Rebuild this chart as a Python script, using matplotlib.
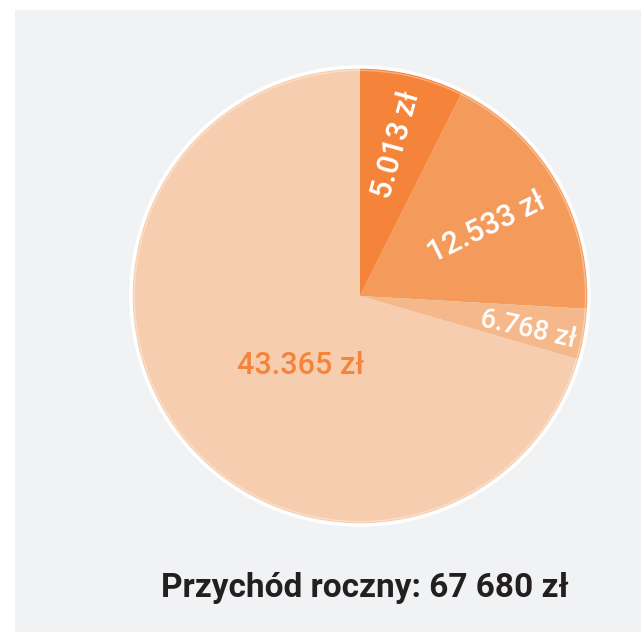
import numpy as np
import matplotlib
matplotlib.use("Agg")
import matplotlib.pyplot as plt
from matplotlib.patches import Rectangle, Circle

# data: slice shares (%) as drawn in the picture, and the printed labels
shares = [7.4, 18.5, 3.6, 70.5]
labels = ["5.013 zł", "12.533 zł", "6.768 zł", "43.365 zł"]
colors = ["#f5843a", "#f49a5a", "#f5b88b", "#f6cdae"]
label_colors = ["white", "white", "white", "#f5843a"]
title = "Przychód roczny: 67 680 zł"

# label placement: radius fraction, angle offset (deg), rotation offset, size
label_r = [0.68, 0.63, 0.75, 0.40]
label_dang = [0, -1.5, -1.5, 12.6]
label_drot = [-2, -4, -3, None]
label_size = [22, 22, 19.5, 22]

plt.rcParams['font.family'] = ['Roboto', 'DejaVu Sans']

W, H = 641, 632
fig = plt.figure(figsize=(W / 100, H / 100), dpi=100)
fig.patch.set_facecolor("white")
fig.patches.append(Rectangle((15 / W, 0), 1 - 15 / W, 1 - 10 / H,
                             transform=fig.transFigure, facecolor="#f1f2f4",
                             edgecolor="none", zorder=-1))

cx, cy, R = 360, 296, 229
ax = fig.add_axes([(cx - R) / W, (H - cy - R) / H, 2 * R / W, 2 * R / H])

wedges, _ = ax.pie(shares, colors=colors, startangle=90, counterclock=False,
                   radius=1, wedgeprops=dict(linewidth=0))
ax.set_xlim(-1, 1)
ax.set_ylim(-1, 1)
ax.axis("off")
for w in wedges:
    w.set_clip_on(False)

# white rim and faint inner highlight
ax.add_patch(Circle((0, 0), 1.0, fill=False, edgecolor="white", linewidth=2.5, clip_on=False))
ax.add_patch(Circle((0, 0), 0.985, fill=False, edgecolor="white", alpha=0.35,
                    linewidth=1, clip_on=False))

for i, w in enumerate(wedges):
    mid = (w.theta1 + w.theta2) / 2
    a = np.deg2rad(mid + label_dang[i])
    x, y = label_r[i] * np.cos(a), label_r[i] * np.sin(a)
    rot = 0 if label_drot[i] is None else mid + label_drot[i]
    ax.text(x, y, labels[i], color=label_colors[i], fontsize=label_size[i],
            fontweight="medium", rotation=rot, rotation_mode="anchor",
            ha="center", va="center")

fig.text(365 / W, 1 - 588 / H, title, ha="center", va="center",
         fontsize=24, fontweight="bold", color="#231f20")

fig.savefig("out.png", dpi=100)
